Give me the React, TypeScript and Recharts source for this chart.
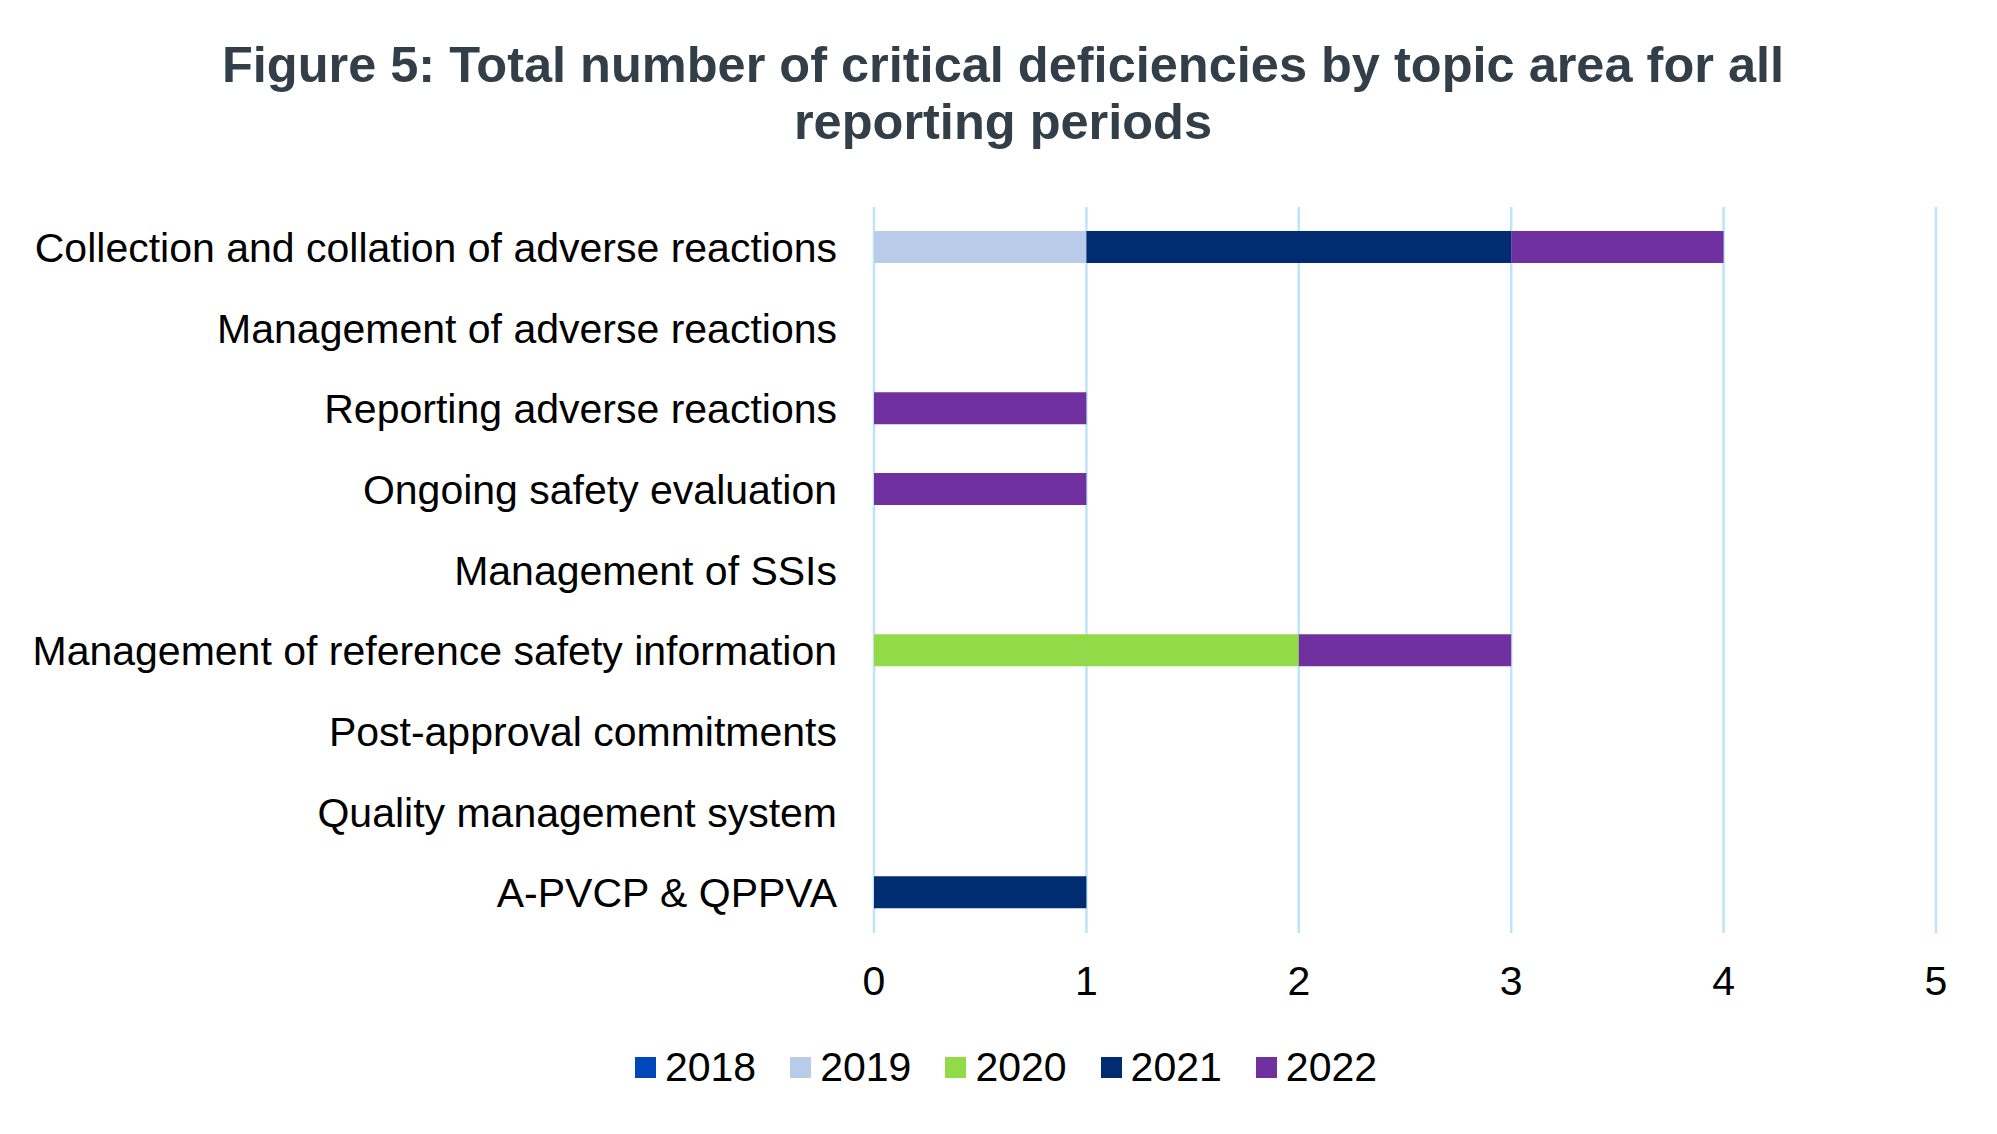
import React from 'react';
import { BarChart, Bar, XAxis, YAxis, CartesianGrid, Legend } from 'recharts';

const categories = [
  'Collection and collation of adverse reactions',
  'Management of adverse reactions',
  'Reporting adverse reactions',
  'Ongoing safety evaluation',
  'Management of SSIs',
  'Management of reference safety information',
  'Post-approval commitments',
  'Quality management system',
  'A-PVCP & QPPVA',
];
const years = ['2018', '2019', '2020', '2021', '2022'];
const colors = ['#0047BB', '#B8CCEA', '#93DA49', '#002D72', '#7030A0'];
const v2018 = [0, 0, 0, 0, 0, 0, 0, 0, 0];
const v2019 = [1, 0, 0, 0, 0, 0, 0, 0, 0];
const v2020 = [0, 0, 0, 0, 0, 2, 0, 0, 0];
const v2021 = [2, 0, 0, 0, 0, 0, 0, 0, 1];
const v2022 = [1, 0, 1, 1, 0, 1, 0, 0, 0];
const xTicks = [0, 1, 2, 3, 4, 5];
const titleLines = ['Figure 5: Total number of critical deficiencies by topic area for all', 'reporting periods'];

const seriesValues = [v2018, v2019, v2020, v2021, v2022];
const data = categories.map((name, i) => {
  const row: Record<string, any> = { name };
  years.forEach((y, k) => {
    row[y] = seriesValues[k][i];
  });
  return row;
});

const FONT = '"Liberation Sans", Arial, sans-serif';

const YTick = (props: any) => {
  const { x, y, payload } = props;
  return (
    <text x={x} y={y} dy="0.355em" textAnchor="end" fontSize={41} fontFamily={FONT} fill="#000">
      {payload.value}
    </text>
  );
};

const XTick = (props: any) => {
  const { x, y, payload } = props;
  return (
    <text x={x} y={y} dy="0.71em" textAnchor="middle" fontSize={41} fontFamily={FONT} fill="#000">
      {payload.value}
    </text>
  );
};

const renderLegend = (props: any) => {
  const payload = props.payload || [];
  return (
    <div
      style={{
        display: 'flex',
        justifyContent: 'center',
        alignItems: 'center',
        height: 40,
        fontFamily: FONT,
        fontSize: 41,
        lineHeight: '40px',
        color: '#000',
      }}
    >
      {payload.map((e: any, i: number) => (
        <div
          key={i}
          style={{ display: 'flex', alignItems: 'center', marginRight: i < payload.length - 1 ? 34 : 0 }}
        >
          <span style={{ display: 'inline-block', width: 21, height: 21, background: e.color, marginRight: 9 }} />
          <span>{e.value}</span>
        </div>
      ))}
    </div>
  );
};

export default function App() {
  return (
    <div style={{ position: 'absolute', left: 0, top: 0, width: 1997, height: 1134, background: '#fff' }}>
      <div
        style={{
          position: 'absolute',
          top: 36,
          left: 10,
          width: 1986,
          textAlign: 'center',
          fontFamily: FONT,
          fontWeight: 'bold',
          fontSize: 50.5,
          lineHeight: '57px',
          color: '#333F48',
          zIndex: 2,
        }}
      >
        {titleLines.map((l, i) => (
          <div key={i}>{l}</div>
        ))}
      </div>
      <BarChart
        width={1997}
        height={1134}
        data={data}
        layout="vertical"
        margin={{ top: 207, right: 61, left: 0, bottom: 141 }}
      >
        <CartesianGrid horizontal={false} stroke="#BFE3F8" strokeWidth={2.5} />
        <XAxis
          type="number"
          domain={[0, 5]}
          ticks={xTicks}
          axisLine={false}
          tickLine={false}
          tickSize={0}
          tickMargin={33}
          height={60}
          tick={<XTick />}
        />
        <YAxis
          type="category"
          dataKey="name"
          width={874}
          axisLine={false}
          tickLine={false}
          tickSize={0}
          tickMargin={37}
          interval={0}
          tick={<YTick />}
        />
        <Legend
          layout="horizontal"
          verticalAlign="middle"
          align="center"
          content={renderLegend}
          wrapperStyle={{ top: 1047, left: 15, width: 1982, height: 40 }}
        />
        {years.map((y, k) => (
          <Bar key={y} dataKey={y} name={y} stackId="a" fill={colors[k]} barSize={32} isAnimationActive={false} />
        ))}
      </BarChart>
    </div>
  );
}
